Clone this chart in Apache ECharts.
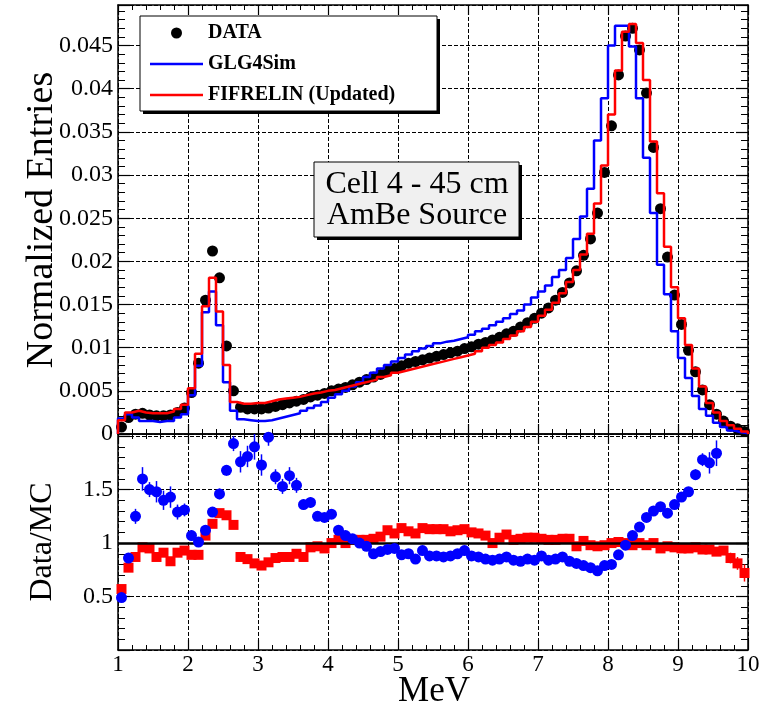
<!DOCTYPE html>
<html>
<head>
<meta charset="utf-8">
<script src="https://cdn.jsdelivr.net/npm/echarts@6/dist/echarts.min.js"></script>
<style>
  html, body { margin: 0; padding: 0; background: #fff; }
  #chart { width: 767px; height: 708px; }
</style>
</head>
<body>
<div id="chart"></div>
<script>
// Energy binning: 90 bins of 0.1 MeV from 1 to 10 MeV
const E_MIN = 1.0;
const BIN_W = 0.1;

// Normalized entries per bin (measured)
const dataEntries = [
  0.0008, 0.0019, 0.0023, 0.0024, 0.0022, 0.0021, 0.0021, 0.0022, 0.0025, 0.0030,
  0.0048, 0.0082, 0.0155, 0.0212, 0.0181, 0.0102, 0.0050, 0.0031, 0.0029, 0.0029,
  0.0029, 0.0030, 0.0032, 0.0034, 0.0036, 0.0038, 0.0040, 0.0043, 0.0045, 0.0047,
  0.0050, 0.0052, 0.0054, 0.0057, 0.0060, 0.0063, 0.0066, 0.0069, 0.0073, 0.0076,
  0.0079, 0.0082, 0.0084, 0.0086, 0.0088, 0.0090, 0.0092, 0.0094, 0.0096, 0.0099,
  0.0101, 0.0104, 0.0106, 0.0109, 0.0112, 0.0116, 0.0119, 0.0124, 0.0129, 0.0134,
  0.0140, 0.0146, 0.0155, 0.0164, 0.0175, 0.0189, 0.0207, 0.0226, 0.0256, 0.0303,
  0.0357, 0.0416, 0.0461, 0.0470, 0.0445, 0.0395, 0.0332, 0.0261, 0.0205, 0.0161,
  0.0127, 0.0097, 0.0072, 0.0051, 0.0034, 0.0023, 0.0015, 0.0009, 0.0006, 0.0003
];

// GLG4Sim prediction per bin
const glg4sim = [
  0.0018, 0.0023, 0.0019, 0.0015, 0.0015, 0.0014, 0.0015, 0.0015, 0.0019, 0.0023,
  0.0045, 0.0079, 0.0141, 0.0165, 0.0126, 0.0060, 0.0027, 0.0017, 0.0016, 0.0015,
  0.0015, 0.0016, 0.0018, 0.0020, 0.0022, 0.0024, 0.0027, 0.0030, 0.0033, 0.0037,
  0.0042, 0.0046, 0.0050, 0.0055, 0.0060, 0.0066, 0.0071, 0.0076, 0.0080, 0.0084,
  0.0088, 0.0092, 0.0096, 0.0099, 0.0102, 0.0105, 0.0107, 0.0108, 0.0110, 0.0112,
  0.0115, 0.0119, 0.0122, 0.0126, 0.0130, 0.0134, 0.0139, 0.0143, 0.0150, 0.0158,
  0.0165, 0.0172, 0.0182, 0.0190, 0.0204, 0.0226, 0.0252, 0.0284, 0.0340, 0.0389,
  0.0450, 0.0473, 0.0473, 0.0449, 0.0389, 0.0320, 0.0256, 0.0196, 0.0162, 0.0119,
  0.0088, 0.0065, 0.0044, 0.0029, 0.0021, 0.0013, 0.0008, 0.0004, 0.0002, 0.0001
];

// FIFRELIN (updated) prediction per bin
const fifrelin = [
  0.0016, 0.0025, 0.0027, 0.0025, 0.0024, 0.0024, 0.0024, 0.0026, 0.0029, 0.0034,
  0.0053, 0.0093, 0.0148, 0.0181, 0.0142, 0.0080, 0.0037, 0.0035, 0.0035, 0.0036,
  0.0036, 0.0038, 0.0040, 0.0041, 0.0042, 0.0043, 0.0045, 0.0047, 0.0048, 0.0050,
  0.0051, 0.0053, 0.0055, 0.0057, 0.0059, 0.0061, 0.0063, 0.0066, 0.0068, 0.0071,
  0.0073, 0.0075, 0.0077, 0.0079, 0.0081, 0.0083, 0.0085, 0.0087, 0.0089, 0.0091,
  0.0093, 0.0096, 0.0100, 0.0103, 0.0106, 0.0110, 0.0114, 0.0119, 0.0124, 0.0130,
  0.0137, 0.0144, 0.0152, 0.0163, 0.0176, 0.0190, 0.0208, 0.0232, 0.0267, 0.0311,
  0.0370, 0.0421, 0.0466, 0.0475, 0.0453, 0.0410, 0.0339, 0.0279, 0.0217, 0.0170,
  0.0134, 0.0103, 0.0076, 0.0055, 0.0036, 0.0025, 0.0015, 0.0010, 0.0006, 0.0003
];

// Data / GLG4Sim ratio per bin (null: beyond the plotted range)
const ratioGLG = [
  0.49, 0.86, 1.25, 1.60, 1.50, 1.48, 1.40, 1.43, 1.29, 1.31,
  1.07, 1.01, 1.12, 1.29, 1.46, 1.68, 1.93, 1.76, 1.81, 1.90,
  1.73, 1.99, 1.62, 1.53, 1.63, 1.54, 1.36, 1.38, 1.25, 1.24,
  1.27, 1.12, 1.07, 1.04, 1.00, 0.97, 0.90, 0.92, 0.94, 0.95,
  0.89, 0.90, 0.85, 0.93, 0.88, 0.88, 0.87, 0.88, 0.90, 0.93,
  0.88, 0.87, 0.85, 0.84, 0.85, 0.87, 0.84, 0.83, 0.85, 0.84,
  0.88, 0.84, 0.85, 0.87, 0.83, 0.81, 0.79, 0.77, 0.74, 0.79,
  0.80, 0.89, 0.98, 1.07, 1.15, 1.24, 1.30, 1.34, 1.28, 1.36,
  1.43, 1.48, 1.64, 1.78, 1.75, 1.84, null, null, null, null
];
const ratioGLGErr = [
  0.04, 0.04, 0.07, 0.11, 0.07, 0.10, 0.09, 0.10, 0.07, 0.06,
  0.05, 0.04, 0.04, 0.04, 0.05, 0.05, 0.07, 0.10, 0.10, 0.12,
  0.10, 0.08, 0.07, 0.07, 0.08, 0.07, 0.05, 0.05, 0.04, 0.04,
  0.04, 0.03, 0.03, 0.03, 0.03, 0.03, 0.03, 0.03, 0.03, 0.03,
  0.03, 0.03, 0.03, 0.03, 0.03, 0.03, 0.03, 0.03, 0.03, 0.03,
  0.03, 0.03, 0.03, 0.03, 0.03, 0.03, 0.03, 0.03, 0.03, 0.03,
  0.03, 0.03, 0.03, 0.03, 0.03, 0.03, 0.03, 0.03, 0.03, 0.03,
  0.03, 0.03, 0.03, 0.03, 0.03, 0.03, 0.03, 0.03, 0.03, 0.03,
  0.04, 0.04, 0.05, 0.06, 0.10, 0.12, 0.00, 0.00, 0.00, 0.00
];

// Data / FIFRELIN ratio per bin
const ratioFIF = [
  0.57, 0.77, 0.87, 0.96, 0.95, 0.87, 0.91, 0.83, 0.91, 0.93,
  0.89, 0.89, 1.07, 1.18, 1.28, 1.26, 1.17, 0.87, 0.85, 0.81,
  0.79, 0.82, 0.86, 0.87, 0.87, 0.90, 0.87, 0.96, 0.97, 0.95,
  1.00, 1.03, 1.00, 1.03, 1.03, 1.03, 1.04, 1.06, 1.12, 1.09,
  1.14, 1.11, 1.09, 1.14, 1.13, 1.13, 1.13, 1.11, 1.12, 1.13,
  1.10, 1.09, 1.07, 1.00, 1.05, 1.08, 1.03, 1.04, 1.05, 1.05,
  1.04, 1.03, 1.03, 1.04, 1.04, 0.97, 1.02, 0.98, 0.97, 0.98,
  1.00, 1.01, 1.00, 0.98, 1.00, 0.98, 1.00, 0.95, 0.97, 0.96,
  0.95, 0.95, 0.96, 0.94, 0.94, 0.92, 0.93, 0.86, 0.81, 0.72
];
const ratioFIFErr = [
  0.03, 0.03, 0.03, 0.03, 0.03, 0.03, 0.03, 0.03, 0.03, 0.03,
  0.02, 0.02, 0.02, 0.02, 0.02, 0.02, 0.02, 0.02, 0.02, 0.02,
  0.02, 0.02, 0.02, 0.02, 0.02, 0.02, 0.02, 0.02, 0.02, 0.02,
  0.02, 0.02, 0.02, 0.02, 0.02, 0.02, 0.02, 0.02, 0.02, 0.02,
  0.02, 0.02, 0.02, 0.02, 0.02, 0.02, 0.02, 0.02, 0.02, 0.02,
  0.02, 0.02, 0.02, 0.02, 0.02, 0.02, 0.02, 0.02, 0.02, 0.02,
  0.02, 0.02, 0.02, 0.02, 0.02, 0.02, 0.02, 0.02, 0.02, 0.02,
  0.02, 0.02, 0.02, 0.02, 0.02, 0.02, 0.02, 0.02, 0.02, 0.02,
  0.02, 0.02, 0.02, 0.03, 0.03, 0.04, 0.04, 0.05, 0.06, 0.08
];

// Tick labels of the two vertical axes
const entryTickLabels = ['0', '0.005', '0.01', '0.015', '0.02', '0.025', '0.03', '0.035', '0.04', '0.045'];
const ratioTickLabels = { '0.5': '0.5', '1': '1', '1.5': '1.5' };

const SERIF = '"Liberation Serif", serif';
const BLUE = '#0000ff';
const RED = '#ff0000';

const edge = i => Math.round((E_MIN + i * BIN_W) * 1000) / 1000;
const center = i => Math.round((E_MIN + (i + 0.5) * BIN_W) * 1000) / 1000;

// Outline histogram: start from the baseline, one horizontal step per bin, back to baseline
function histogram(vals) {
  const pts = [[edge(0), 0]];
  vals.forEach((v, i) => pts.push([edge(i), v]));
  pts.push([edge(vals.length), vals[vals.length - 1]]);
  pts.push([edge(vals.length), 0]);
  return pts;
}
function points(vals) {
  const out = [];
  vals.forEach((v, i) => { if (v != null) out.push([center(i), v]); });
  return out;
}
function errPoints(vals, errs) {
  const out = [];
  vals.forEach((v, i) => { if (v != null) out.push([center(i), v, errs[i]]); });
  return out;
}
function errorBars(color) {
  return function (params, api) {
    const x = api.value(0), y = api.value(1), e = api.value(2);
    const a = api.coord([x, y - e]), b = api.coord([x, y + e]);
    return {
      type: 'line',
      shape: { x1: a[0], y1: a[1], x2: b[0], y2: b[1] },
      style: { stroke: color, lineWidth: 1.5 }
    };
  };
}

function frame() { return { show: true, onZero: false, lineStyle: { color: '#000', width: 1.5 } }; }
function gridLines() { return { show: true, lineStyle: { color: '#000', width: 1, type: 'dashed', dashOffset: 0 } }; }

function xAxis(grid, position, withLabels) {
  return {
    type: 'value', gridIndex: grid, position: position,
    min: 1, max: 10, interval: 1,
    axisLine: frame(),
    axisTick: { show: true, inside: true, length: 10, lineStyle: { color: '#000', width: 1.2 } },
    minorTick: { show: true, splitNumber: 5, length: 5, lineStyle: { color: '#000', width: 1 } },
    axisLabel: {
      show: withLabels, margin: 3, color: '#000', fontFamily: SERIF, fontSize: 23
    },
    splitLine: position === 'bottom' ? gridLines() : { show: false },
    minorSplitLine: { show: false }
  };
}
function yAxis(grid, position, min, max, interval, formatter) {
  return {
    type: 'value', gridIndex: grid, position: position,
    min: min, max: max, interval: interval,
    axisLine: frame(),
    axisTick: { show: true, inside: true, length: 12, lineStyle: { color: '#000', width: 1.2 } },
    minorTick: { show: true, splitNumber: 5, length: 7, lineStyle: { color: '#000', width: 1 } },
    axisLabel: formatter ? {
      show: true, margin: 5, color: '#000', fontFamily: SERIF, fontSize: 24,
      formatter: formatter, showMaxLabel: false, showMinLabel: true
    } : { show: false },
    splitLine: position === 'left' ? gridLines() : { show: false },
    minorSplitLine: { show: false }
  };
}

const chart = echarts.init(document.getElementById('chart'), null, { renderer: 'canvas' });

chart.setOption({
  animation: false,
  backgroundColor: '#fff',
  grid: [
    { left: 118, top: 5, width: 630, height: 429, show: false },
    { left: 118, top: 434, width: 630, height: 216, show: false }
  ],
  xAxis: [
    xAxis(0, 'bottom', false),
    xAxis(0, 'top', false),
    xAxis(1, 'bottom', true),
    xAxis(1, 'top', false)
  ],
  yAxis: [
    yAxis(0, 'left', 0, 0.0497, 0.005, v => entryTickLabels[Math.round(v / 0.005)] || ''),
    yAxis(0, 'right', 0, 0.0497, 0.005, null),
    yAxis(1, 'left', 0, 2.02, 0.5, v => ratioTickLabels[String(v)] || ''),
    yAxis(1, 'right', 0, 2.02, 0.5, null)
  ],
  legend: {
    data: [
      { name: 'DATA' },
      { name: 'GLG4Sim', icon: 'path://M0,0h53v2.6h-53z' },
      { name: 'FIFRELIN (Updated)', icon: 'path://M0,0h53v2.6h-53z' }
    ],
    orient: 'vertical',
    left: 140, top: 16,
    padding: [7, 22, 5, 10],
    itemGap: 11,
    itemWidth: 53,
    itemHeight: 11,
    itemTextGap: 14,
    selectedMode: false,
    z: 8,
    textStyle: { fontFamily: SERIF, fontWeight: 'bold', fontSize: 20, color: '#000', lineHeight: 20 }
  },
  graphic: [
    // legend frame with drop shadow
    { type: 'rect', z: 6, shape: { x: 143, y: 19, width: 297, height: 95 }, style: { fill: '#000' } },
    { type: 'rect', z: 7, shape: { x: 140, y: 16, width: 297, height: 95 }, style: { fill: '#fff', stroke: '#000', lineWidth: 1 } },
    // source label box
    { type: 'rect', z: 6, shape: { x: 317, y: 165, width: 205, height: 75 }, style: { fill: '#000' } },
    { type: 'rect', z: 7, shape: { x: 314, y: 162, width: 205, height: 75 }, style: { fill: '#f0f0f0', stroke: '#000', lineWidth: 1 } },
    { type: 'text', z: 8, x: 417, y: 185, style: { text: 'Cell 4 - 45 cm', fill: '#000', font: '32px "Liberation Serif"', textAlign: 'center', textVerticalAlign: 'middle' } },
    { type: 'text', z: 8, x: 417, y: 216, style: { text: 'AmBe Source', fill: '#000', font: '32px "Liberation Serif"', textAlign: 'center', textVerticalAlign: 'middle' } },
    // axis titles
    { type: 'text', z: 8, x: 42, y: 220, rotation: Math.PI / 2, style: { text: 'Normalized Entries', fill: '#000', font: '38px "Liberation Serif"', textAlign: 'center', textVerticalAlign: 'middle' } },
    { type: 'text', z: 8, x: 43, y: 542, rotation: Math.PI / 2, style: { text: 'Data/MC', fill: '#000', font: '32px "Liberation Serif"', textAlign: 'center', textVerticalAlign: 'middle' } },
    { type: 'text', z: 8, x: 434, y: 692, style: { text: 'MeV', fill: '#000', font: '35px "Liberation Serif"', textAlign: 'center', textVerticalAlign: 'middle' } }
  ],
  series: [
    {
      name: 'DATA', type: 'scatter', xAxisIndex: 0, yAxisIndex: 0, z: 3,
      symbol: 'circle', symbolSize: 11, itemStyle: { color: '#000', opacity: 1 },
      data: points(dataEntries)
    },
    {
      name: 'GLG4Sim', type: 'line', xAxisIndex: 0, yAxisIndex: 0, z: 4,
      step: 'end', symbol: 'none', color: BLUE,
      lineStyle: { color: BLUE, width: 2.5 },
      data: histogram(glg4sim)
    },
    {
      name: 'FIFRELIN (Updated)', type: 'line', xAxisIndex: 0, yAxisIndex: 0, z: 5,
      step: 'end', symbol: 'none', color: RED,
      lineStyle: { color: RED, width: 2.5 },
      data: histogram(fifrelin)
    },
    {
      name: 'ratioFIFErr', type: 'custom', xAxisIndex: 2, yAxisIndex: 2, z: 2, clip: true,
      renderItem: errorBars(RED), data: errPoints(ratioFIF, ratioFIFErr)
    },
    {
      name: 'ratioFIF', type: 'scatter', xAxisIndex: 2, yAxisIndex: 2, z: 3,
      symbol: 'rect', symbolSize: 10, itemStyle: { color: RED, opacity: 1 },
      data: points(ratioFIF)
    },
    {
      name: 'ratioGLGErr', type: 'custom', xAxisIndex: 2, yAxisIndex: 2, z: 4, clip: true,
      renderItem: errorBars(BLUE), data: errPoints(ratioGLG, ratioGLGErr)
    },
    {
      name: 'ratioGLG', type: 'scatter', xAxisIndex: 2, yAxisIndex: 2, z: 5,
      symbol: 'circle', symbolSize: 11, itemStyle: { color: BLUE, opacity: 1 },
      data: points(ratioGLG),
      markLine: {
        silent: true, symbol: ['none', 'none'], label: { show: false },
        lineStyle: { color: '#000', width: 2.5, type: 'solid' },
        data: [{ yAxis: 1 }]
      }
    }
  ]
});
</script>
</body>
</html>
